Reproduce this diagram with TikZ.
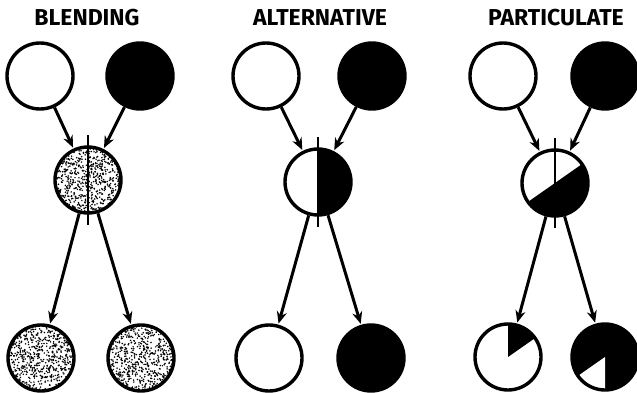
\documentclass[tikz,border=0pt]{standalone}
\usepackage{fontspec}
\setmainfont{Fira Sans}
\usetikzlibrary{arrows.meta}

\tikzset{
  disc/.style={circle, draw, line width=3.4pt, minimum size=66pt, inner sep=0pt},
  blank/.style={disc, fill=white},
  dark/.style={disc, fill=black},
  stipple/.style={disc, fill=white, path picture={
      \foreach \k in {1,...,850}
        \fill[black] (path picture bounding box.center) ++({rand*35pt},{rand*35pt}) circle (0.85pt);}},
  half/.style={disc, fill=white, path picture={
      \fill[black] (path picture bounding box.north) rectangle (path picture bounding box.south east);}},
  diag/.style={disc, fill=white, path picture={
      \begin{scope}[shift={(path picture bounding box.center)}]
        \fill[black] (215:45pt) -- (35:45pt) -- (-55:60pt) -- cycle;
      \end{scope}}},
  pieceblack/.style={disc, fill=white, path picture={
      \begin{scope}[shift={(path picture bounding box.center)}]
        \fill[black] (0pt,0pt) -- (35:50pt) -- (90:50pt) -- cycle;
      \end{scope}}},
  piecewhite/.style={disc, fill=black, path picture={
      \begin{scope}[shift={(path picture bounding box.center)}]
        \fill[white] (0pt,0pt) -- (215:50pt) -- (270:50pt) -- cycle;
      \end{scope}}},
  title/.style={font=\bfseries\fontsize{23}{23}\selectfont},
  arr/.style={-{Stealth[length=12pt,width=10pt]}, line width=3pt, shorten >=1pt},
  divider/.style={line width=2.6pt},
}

\begin{document}
\begin{tikzpicture}[x=1pt, y=-1pt]
  \useasboundingbox (0,0) rectangle (637,393);
  \pgfmathsetseed{7}

  % Titles
  \node[title] (t1) at (87,18) {BLENDING};
  \node[title] (t2) at (320,18) {ALTERNATIVE};
  \node[title] (t3) at (556,18) {PARTICULATE};

  % Blending
  \node[blank] (a1) at (40,76) {};
  \node[dark] (b1) at (140,76) {};
  \node[stipple] (c1) at (88,180) {};
  \node[stipple] (d1) at (41,358) {};
  \node[stipple] (e1) at (141,358) {};

  % Alternative
  \node[blank] (a2) at (266,76) {};
  \node[dark] (b2) at (372,76) {};
  \node[half] (c2) at (318,182) {};
  \node[blank] (d2) at (269,358) {};
  \node[dark] (e2) at (371,358) {};

  % Particulate
  \node[blank] (a3) at (503,76) {};
  \node[dark] (b3) at (605,76) {};
  \node[diag] (c3) at (555,183) {};
  \node[pieceblack] (d3) at (508,357) {};
  \node[piecewhite] (e3) at (605,357) {};

  % Arrows
  \foreach \p in {1,2,3} {
    \draw[arr] (a\p) -- (c\p);
    \draw[arr] (b\p) -- (c\p);
    \draw[arr] (c\p) -- (d\p);
    \draw[arr] (c\p) -- (e\p);
    \draw[divider] ([yshift=10pt]c\p.north) -- ([yshift=-10pt]c\p.south);
  }

\end{tikzpicture}
\end{document}
